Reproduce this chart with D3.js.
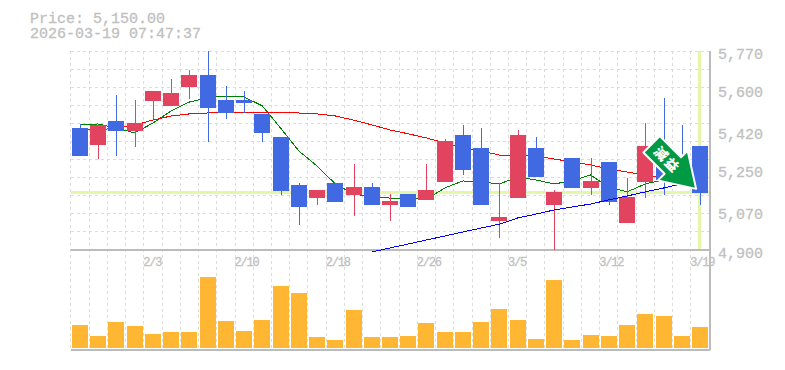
<!DOCTYPE html>
<html><head><meta charset="utf-8">
<script src="https://cdn.jsdelivr.net/npm/d3@7"></script>
<style>html,body{margin:0;padding:0;background:#fff}svg{display:block}</style></head>
<body><svg id="c" width="785" height="370"></svg>
<script>
const priceLabel = "Price: 5,150.00";
const stampLabel = "2026-03-19 07:47:37";
const lastPrice = 5150;
const priceTicks = [5770,5600,5420,5250,5070,4900];
const dateLabels = {4:"2/3",9:"2/10",14:"2/18",19:"2/26",24:"3/5",29:"3/12",34:"3/19"};
const signalLabel = "減益";
// candle values
const open  = [5433,5359,5464,5420,5551,5530,5613,5665,5556,5556,5495,5394,5184,5127,5193,5140,5175,5097,5145,5119,5197,5403,5346,5027,5127,5346,5097,5302,5171,5285,5018,5197,5315,5272,5355];
const close = [5311,5447,5420,5455,5595,5586,5665,5521,5499,5543,5412,5158,5088,5162,5110,5175,5097,5114,5088,5162,5377,5250,5097,5044,5403,5219,5154,5171,5202,5110,5132,5355,5206,5197,5150];
const high  = [5451,5447,5578,5556,5595,5648,5687,5770,5617,5595,5495,5394,5193,5162,5193,5276,5193,5145,5145,5276,5385,5447,5433,5193,5425,5394,5162,5302,5302,5285,5215,5455,5565,5447,5355];
const low   = [5311,5298,5311,5350,5473,5530,5560,5372,5473,5499,5372,5140,5009,5097,5110,5049,5097,5027,5088,5119,5197,5228,5097,4952,5127,5219,4900,5171,5140,5097,5018,5127,5140,5197,5097];
const ma5   = [5447,5451,5433,5412,5455,5508,5547,5565,5573,5569,5530,5433,5333,5267,5189,5145,5132,5127,5123,5123,5171,5202,5197,5189,5219,5206,5189,5202,5228,5175,5154,5189,5206];
const ma25  = [5425,5425,5433,5447,5468,5486,5495,5499,5499,5499,5499,5499,5499,5495,5486,5468,5447,5425,5408,5390,5368,5346,5333,5315,5311,5311,5298,5285,5272,5254,5241,5228,5215];
const ma75  = [null,null,null,null,null,null,null,null,null,null,null,null,null,null,null,null,4891,4909,4926,4944,4961,4979,4996,5013,5040,5057,5075,5088,5101,5119,5136,5154,5171,5189];
const volume = [23,12,26,22,14,16,16,71,27,17,28,62,55,11,8,38,11,11,12,25,16,16,26,39,28,9,68,8,13,12,23,34,32,12,21];

const W = {l:70.9, r:709.1, top:51, mid:250, bot:350, volBase:348};
const svg = d3.select("#c");
const idx = d3.range(open.length);
const x = d3.scaleBand().domain(idx).range([W.l, W.r]).paddingInner(0).paddingOuter(0);
const y = d3.scaleLinear().domain([4900,5770]).range([W.mid, W.top]);
const yV = d3.scaleLinear().domain([0,98]).range([W.volBase, W.mid]);
const cx = i => x(i) + x.bandwidth()/2;
const MONO = "'Liberation Mono',monospace";
const GREY = "#c0c0c0";

// grid
const grid = svg.append("g").attr("stroke","#dcdcdc").attr("stroke-width",1).attr("stroke-dasharray","3,3").attr("shape-rendering","crispEdges");
d3.range(12).forEach(k=>{
  const v = 4900 + k*870/11;
  grid.append("line").attr("x1",W.l).attr("x2",W.r).attr("y1",y(v)).attr("y2",y(v));
});
idx.forEach(i=>{
  grid.append("line").attr("x1",x(i)).attr("x2",x(i)).attr("y1",W.top).attr("y2",W.bot);
});

// crosshair at last price
const hl = svg.append("g").attr("stroke","#e4f7a9").attr("stroke-width",3).attr("shape-rendering","crispEdges");
hl.append("line").attr("x1",W.l).attr("x2",W.r).attr("y1",y(lastPrice)).attr("y2",y(lastPrice));
hl.append("line").attr("x1",cx(34)).attr("x2",cx(34)).attr("y1",W.top).attr("y2",W.mid-1);

// axes frame
const ax = svg.append("g").attr("stroke","#bbbbbb").attr("stroke-width",1.5).attr("shape-rendering","crispEdges");
ax.append("line").attr("x1",W.l).attr("x2",W.r+1).attr("y1",W.mid).attr("y2",W.mid);
ax.append("line").attr("x1",W.l).attr("x2",W.r+1).attr("y1",W.bot).attr("y2",W.bot);
ax.append("line").attr("x1",W.r+1).attr("x2",W.r+1).attr("y1",W.top).attr("y2",W.bot);

// moving averages sit under the candles where they cross, except the long one
const line = d3.line().defined(d=>d!=null).x((d,i)=>cx(i)).y(d=>y(d));
[[ma5,"#008000"],[ma25,"#ff0000"]].forEach(([s,c])=>{
  svg.append("path").attr("d",line(s)).attr("fill","none").attr("stroke",c).attr("stroke-width",1).attr("shape-rendering","crispEdges");
});

// candles
const UP="#e2435f", DOWN="#4169e1";
const col = i => close[i] >= open[i] ? UP : DOWN;
const cg = svg.append("g").selectAll("g").data(idx).join("g");
cg.append("line").attr("x1",i=>Math.round(cx(i))).attr("x2",i=>Math.round(cx(i)))
  .attr("y1",i=>y(high[i])).attr("y2",i=>y(low[i])).attr("stroke",col).attr("stroke-width",1).attr("shape-rendering","crispEdges");
cg.append("rect").attr("x",i=>Math.round(cx(i))-8).attr("width",16)
  .attr("y",i=>y(Math.max(open[i],close[i])))
  .attr("height",i=>Math.abs(y(open[i])-y(close[i]))).attr("fill",col).attr("shape-rendering","crispEdges");

svg.append("path").attr("d",line(ma75)).attr("fill","none").attr("stroke","#0000ff").attr("stroke-width",1).attr("shape-rendering","crispEdges");

// volume
svg.append("g").selectAll("rect").data(idx).join("rect")
  .attr("x",i=>Math.round(cx(i))-8).attr("width",16)
  .attr("y",i=>yV(volume[i])).attr("height",i=>yV(0)-yV(volume[i]))
  .attr("fill","#ffb733").attr("shape-rendering","crispEdges");

// texts
const txt = (s,xx,yy,size,ls) => svg.append("text").attr("x",xx).attr("y",yy).text(s)
  .attr("font-family",MONO).attr("font-size",size).attr("fill",GREY).attr("stroke",GREY).attr("stroke-width",0.3).attr("letter-spacing",ls||0);
txt(priceLabel,30,23,15);
txt(stampLabel,30,37.5,15);
priceTicks.forEach(p=>txt(d3.format(",")(p),718,y(p)+7.5,15));
Object.keys(dateLabels).forEach(k=>txt(dateLabels[k],x(+k)-0.5,266,12,-1.2));

// signal arrow, placed from the last candle and last price
const a = svg.append("g").attr("transform",`translate(${cx(34)-48.4},${y(lastPrice)-48.5}) rotate(45)`);
a.append("path").attr("d","M0,-11.6 L30,-11.6 L30,-21 L63,0 L30,21 L30,11.6 L0,11.6 Z")
  .attr("fill","#009944").attr("stroke","#fff").attr("stroke-width",2).attr("stroke-linejoin","round");
a.append("text").attr("x",22).attr("y",5).text(signalLabel).attr("fill","#fff")
  .attr("font-family","'Noto Sans CJK JP'").attr("font-weight",900).attr("font-size",13.5).attr("letter-spacing",2).attr("text-anchor","middle");
</script></body></html>
